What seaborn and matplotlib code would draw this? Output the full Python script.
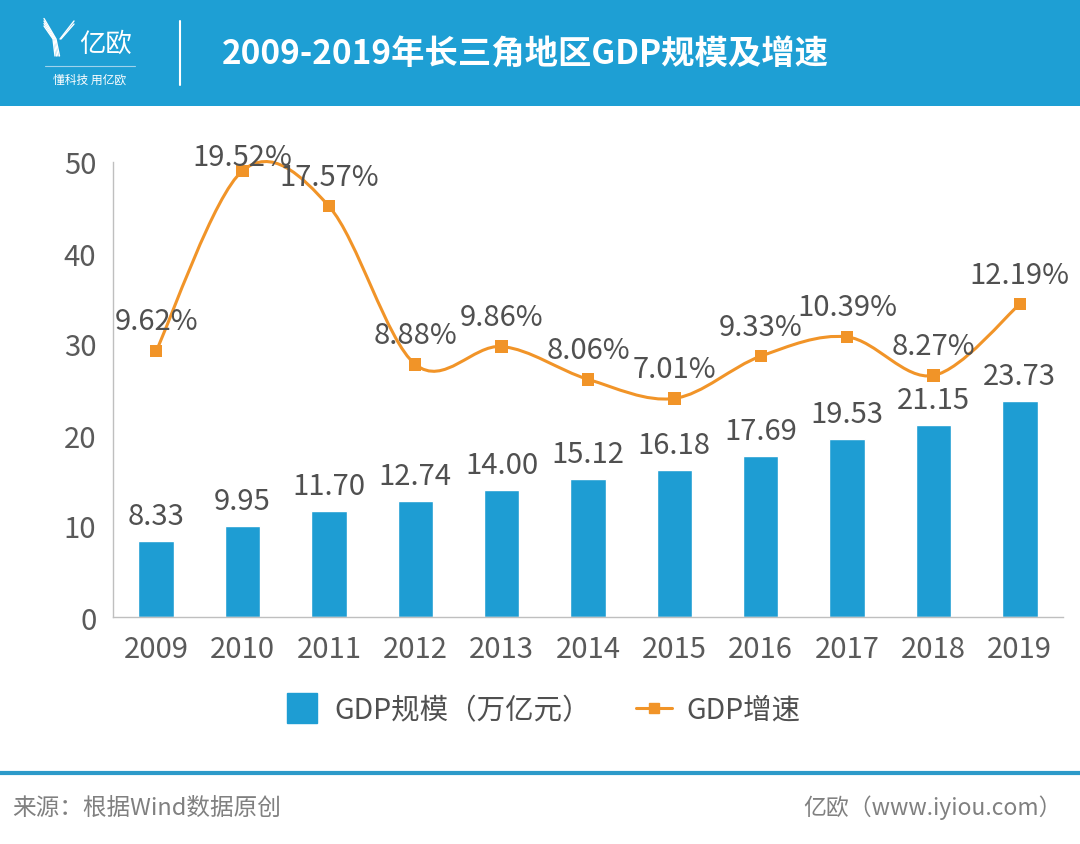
import numpy as np
import pandas as pd
import matplotlib
matplotlib.use('Agg')
import matplotlib.pyplot as plt
import seaborn as sns
from matplotlib.path import Path
from matplotlib.patches import PathPatch, Rectangle
from matplotlib.lines import Line2D

# ---------------- data ----------------
years = ['2009', '2010', '2011', '2012', '2013', '2014', '2015', '2016', '2017', '2018', '2019']
gdp_scale = [8.33, 9.95, 11.70, 12.74, 14.00, 15.12, 16.18, 17.69, 19.53, 21.15, 23.73]
gdp_growth = [9.62, 19.52, 17.57, 8.88, 9.86, 8.06, 7.01, 9.33, 10.39, 8.27, 12.19]
y_ticks = [0, 10, 20, 30, 40, 50]
legend_labels = ['GDP规模（万亿元）', 'GDP增速']
title = '2009-2019年长三角地区GDP规模及增速'
source = '来源：根据Wind数据原创'
credit = '亿欧（www.iyiou.com）'

BLUE = '#1E9DD3'
HEADER = '#1E9FD4'
ORANGE = '#F19428'
TEXT = '#505050'
GRAY = '#808080'

sns.set_theme(style='white')
plt.rcParams['font.family'] = ['Noto Sans CJK SC', 'DejaVu Sans']

W, H = 1080, 845
fig = plt.figure(figsize=(W / 100, H / 100), dpi=100)


def px(x, y):
    return x / W, 1 - y / H


ax = fig.add_axes([113 / W, 1 - 618 / H, (1063 - 113) / W, (618 - 163) / H])
df = pd.DataFrame({'year': years, 'gdp': gdp_scale})
sns.barplot(data=df, x='year', y='gdp', color=BLUE, width=0.41, saturation=1,
            ax=ax, zorder=2)
ax.set_xlim(-0.5, len(years) - 0.5)
ax.set_ylim(0, 50)
ax.set_yticks(y_ticks)
ax.set_xlabel('')
ax.set_ylabel('')
for s in ['top', 'right']:
    ax.spines[s].set_visible(False)
for s in ['left', 'bottom']:
    ax.spines[s].set_color('#BFBFBF')
    ax.spines[s].set_linewidth(1)
ax.tick_params(axis='both', length=0, labelsize=21, labelcolor='#5A5A5A')
ax.tick_params(axis='y', pad=12)
ax.tick_params(axis='x', pad=12)

for i, v in enumerate(gdp_scale):
    ax.annotate(f'{v:.2f}', (i, v), xytext=(0, 18), textcoords='offset points',
                ha='center', va='center', fontsize=21, color=TEXT)

# growth on hidden secondary axis
ax2 = ax.twinx()
ax2.set_ylim(-5, 20)
ax2.set_axis_off()
xs = np.arange(len(years), dtype=float)
ys = np.array(gdp_growth, dtype=float)
# smoothed curve (Catmull-Rom -> cubic Bezier)
verts = [(xs[0], ys[0])]
codes = [Path.MOVETO]
n = len(xs)
for i in range(n - 1):
    p0 = (xs[max(i - 1, 0)], ys[max(i - 1, 0)])
    p1 = (xs[i], ys[i])
    p2 = (xs[i + 1], ys[i + 1])
    p3 = (xs[min(i + 2, n - 1)], ys[min(i + 2, n - 1)])
    c1 = (p1[0] + (p2[0] - p0[0]) / 6, p1[1] + (p2[1] - p0[1]) / 6)
    c2 = (p2[0] - (p3[0] - p1[0]) / 6, p2[1] - (p3[1] - p1[1]) / 6)
    verts += [c1, c2, p2]
    codes += [Path.CURVE4] * 3
ax2.add_patch(PathPatch(Path(verts, codes), facecolor='none', edgecolor=ORANGE,
                        lw=2.2, zorder=3, clip_on=False))
sns.scatterplot(x=xs, y=ys, marker='s', s=80, color=ORANGE, edgecolor='none',
                ax=ax2, zorder=4, clip_on=False, legend=False)
ax2.set_axis_off()
for i, g in enumerate(gdp_growth):
    ly = min(g + 1.62, 20.27)
    ax2.text(xs[i], ly, f'{g:.2f}%', ha='center', va='center', fontsize=21,
             color=TEXT, zorder=5)

# legend
handles = [Line2D([], [], color=BLUE, marker='s', markersize=21, lw=0),
           Line2D([], [], color=ORANGE, marker='s', markersize=7, lw=2.2)]
fig.legend(handles, legend_labels, loc='center', bbox_to_anchor=(0.502, 1 - 711 / H),
           ncol=2, frameon=False, fontsize=20.5, handlelength=1.25, columnspacing=1.6,
           handletextpad=0.5, labelcolor=TEXT)

# header band
fig.patches.append(Rectangle(px(0, 107), 1, 107 / H, transform=fig.transFigure,
                             facecolor=HEADER, edgecolor='none', zorder=0))
fig.text(*px(222, 55), title, ha='left', va='center', fontsize=24,
         fontweight='bold', color='white')
# separator
fig.add_artist(Line2D([180 / W, 180 / W], [1 - 22 / H, 1 - 86 / H], color='white', lw=1.5))
# logo (striped Y)
for k in (-5, -2.5, 0, 2.5):
    fig.add_artist(Line2D([px(44, 0)[0], px(55 + k * 0.4, 0)[0], px(58 + k * 0.6, 0)[0]],
                          [px(0, 22 - k)[1], px(0, 40)[1], px(0, 57)[1]],
                          color='white', lw=1.0))
for k in (0, 3):
    fig.add_artist(Line2D([px(60 + k * 0.3, 0)[0], px(74, 0)[0]],
                          [px(0, 40)[1], px(0, 22 + k)[1]], color='white', lw=1.0))
fig.text(*px(106, 44), '亿欧', ha='center', va='center', fontsize=19, color='white')
fig.add_artist(Line2D([45 / W, 135 / W], [1 - 67 / H, 1 - 67 / H], color='#9FD3EC', lw=0.8))
fig.text(*px(90, 80), '懂科技 用亿欧', ha='center', va='center', fontsize=8.5, color='white')

# footer
fig.add_artist(Line2D([0, 1], [1 - 774 / H, 1 - 774 / H], color='#2C9AC9', lw=3))
fig.text(*px(12, 808), source, ha='left', va='center', fontsize=17, color=GRAY)
fig.text(*px(1062, 808), credit, ha='right', va='center', fontsize=16.5, color=GRAY)

fig.savefig('out.png', dpi=100, facecolor='white')
